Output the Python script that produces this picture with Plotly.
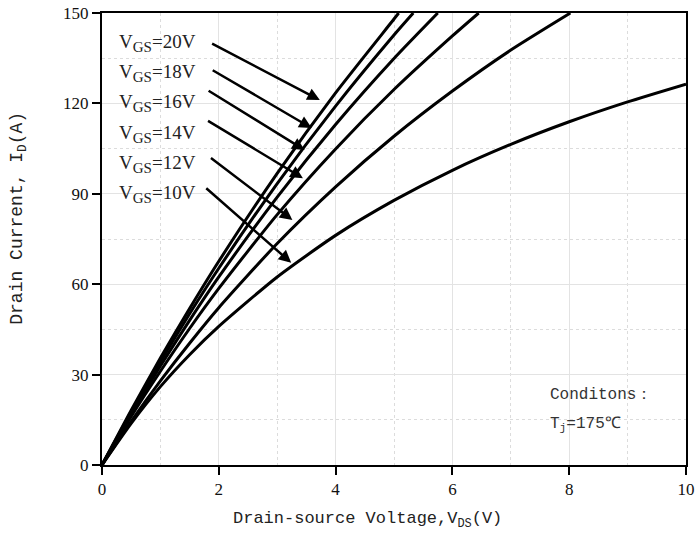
import plotly.graph_objects as go

# ---- data ----
vgs_labels = ["20V", "18V", "16V", "14V", "12V", "10V"]

v_20 = [0, 0.5, 1, 1.5, 2, 3, 4, 5, 5.08]
i_20 = [0, 18.2, 35.5, 51.9, 67.6, 96.8, 123.5, 148.0, 150]

v_18 = [0, 0.5, 1, 1.5, 2, 3, 4, 5, 5.33]
i_18 = [0, 17.6, 34.3, 50.2, 65.3, 93.4, 119.1, 142.7, 150]

v_16 = [0, 0.5, 1, 1.5, 2, 3, 4, 5, 5.75]
i_16 = [0, 16.9, 32.9, 48.0, 62.4, 88.9, 113.0, 134.9, 150]

v_14 = [0, 0.5, 1, 1.5, 2, 3, 4, 5, 6, 6.45]
i_14 = [0, 16.1, 31.1, 45.3, 58.6, 83.1, 104.9, 124.6, 142.4, 150]

v_12 = [0, 0.5, 1, 1.5, 2, 3, 4, 5, 6, 7, 8.02]
i_12 = [0, 14.5, 27.9, 40.4, 52.2, 73.5, 92.3, 109.1, 124.1, 137.7, 150]

v_10 = [0, 0.5, 1, 1.5, 2, 3, 4, 5, 6, 7, 8, 9, 10]
i_10 = [0, 13.8, 26.0, 36.6, 46.0, 62.4, 76.2, 87.8, 97.8, 106.4, 113.9, 120.5, 126.4]

curves_v = [v_20, v_18, v_16, v_14, v_12, v_10]
curves_i = [i_20, i_18, i_16, i_14, i_12, i_10]

# label positions (V, I) and arrows tail -> head
label_x = 0.25
label_y = [140, 130, 120, 110, 100, 90]
arrow_tail_x = [1.86, 1.87, 1.80, 1.79, 1.84, 1.76]
arrow_tail_y = [140.1, 131.3, 124.5, 114.5, 102.3, 92.3]
arrow_head_x = [3.73, 3.59, 3.47, 3.44, 3.26, 3.24]
arrow_head_y = [121.1, 111.8, 104.5, 95.2, 81.3, 67.1]

x_ticks = [0, 2, 4, 6, 8, 10]
y_ticks = [0, 30, 60, 90, 120, 150]

fig = go.Figure()
for vv, ii in zip(curves_v, curves_i):
    fig.add_trace(go.Scatter(x=vv, y=ii, mode="lines",
                             line=dict(color="black", width=3, shape="spline", smoothing=0.6),
                             showlegend=False, hoverinfo="skip"))

serif = "Liberation Serif, DejaVu Serif, serif"
mono = "Liberation Mono, DejaVu Sans Mono, monospace"

for lab, ly, tx, ty, hx, hy in zip(vgs_labels, label_y, arrow_tail_x, arrow_tail_y,
                                    arrow_head_x, arrow_head_y):
    fig.add_annotation(x=label_x, y=ly, xref="x", yref="y",
                       text="V<sub><span style='font-size:15px'>GS</span></sub>=" + lab,
                       showarrow=False, xanchor="left", yanchor="middle",
                       font=dict(family=serif, size=19, color="#222"))
    fig.add_annotation(x=hx, y=hy, ax=tx, ay=ty, xref="x", yref="y",
                       axref="x", ayref="y", text="", showarrow=True,
                       arrowhead=2, arrowsize=1.0, arrowwidth=2.5, arrowcolor="black")

fig.add_annotation(x=7.64, y=23.2, xref="x", yref="y", text="Conditons：",
                   showarrow=False, xanchor="left", yanchor="middle",
                   font=dict(family=mono, size=16, color="#333"))
fig.add_annotation(x=7.64, y=13.3, xref="x", yref="y", text="T<sub>j</sub>=175℃",
                   showarrow=False, xanchor="left", yanchor="middle",
                   font=dict(family=mono, size=16, color="#333"))

# axis titles (placed as in the reference)
fig.add_annotation(x=0.455, y=-0.122, xref="paper", yref="paper",
                   text="Drain-source Voltage,V<sub>DS</sub>(V)", showarrow=False,
                   xanchor="center", yanchor="middle",
                   font=dict(family=mono, size=17, color="#222"))
fig.add_annotation(x=-0.142, y=0.545, xref="paper", yref="paper",
                   text="Drain Current, I<sub>D</sub>(A)", showarrow=False, textangle=-90,
                   xanchor="center", yanchor="middle",
                   font=dict(family=mono, size=18, color="#222"))

fig.update_xaxes(range=[0, 10], tickvals=x_ticks, ticktext=[str(t) for t in x_ticks],
                 automargin=False,
                 showline=True, linecolor="black", linewidth=2, mirror=True,
                 ticks="outside", ticklen=8, tickwidth=2, tickcolor="black",
                 showgrid=True, gridcolor="#e3e3e3", gridwidth=1,
                 minor=dict(dtick=1, showgrid=True, gridcolor="#dcdcdc", griddash="dot", gridwidth=1),
                 zeroline=False,
                 tickfont=dict(family=serif, size=17, color="#111"))
fig.update_yaxes(range=[0, 150], tickvals=y_ticks, ticktext=[str(t) for t in y_ticks],
                 automargin=False,
                 showline=True, linecolor="black", linewidth=2, mirror=True,
                 ticks="outside", ticklen=8, tickwidth=2, tickcolor="black",
                 showgrid=True, gridcolor="#e3e3e3", gridwidth=1,
                 minor=dict(dtick=15, showgrid=True, gridcolor="#dcdcdc", griddash="dot", gridwidth=1),
                 zeroline=False,
                 tickfont=dict(family=serif, size=17, color="#111"))

fig.update_layout(width=697, height=535, margin=dict(l=102, r=11, t=13, b=70),
                  paper_bgcolor="white", plot_bgcolor="white")

fig.write_html("out.html")
